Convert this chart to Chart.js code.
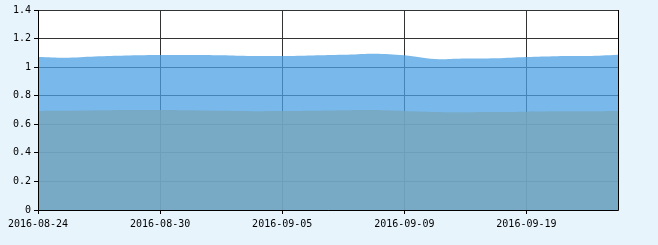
<!DOCTYPE html>
<html>
<head>
<meta charset="utf-8">
<script src="https://cdn.jsdelivr.net/npm/chart.js@4/dist/chart.umd.min.js"></script>
<style>
    html, body { margin: 0; padding: 0; background: #e8f4fc; }
    #wrap { width: 658px; height: 245px; }
</style>
</head>
<body>
<div id="wrap"><canvas id="chart" width="658" height="245"></canvas></div>
<script>
// trading days shown on the x axis
const dates = [
    '2016-08-24', '2016-08-25', '2016-08-26', '2016-08-29', '2016-08-30',
    '2016-08-31', '2016-09-01', '2016-09-02', '2016-09-05', '2016-09-06',
    '2016-09-07', '2016-09-08', '2016-09-09', '2016-09-12', '2016-09-13',
    '2016-09-14', '2016-09-19', '2016-09-20', '2016-09-21', '2016-09-22'
];
const upperValues = [
    1.071, 1.066, 1.076, 1.082, 1.085, 1.085, 1.083, 1.078, 1.078, 1.082,
    1.086, 1.094, 1.083, 1.057, 1.060, 1.062, 1.071, 1.077, 1.078, 1.087
];
const lowerValues = [
    0.693, 0.694, 0.698, 0.700, 0.700, 0.698, 0.694, 0.692, 0.693, 0.695,
    0.699, 0.700, 0.693, 0.686, 0.685, 0.686, 0.688, 0.691, 0.691, 0.693
];
const yTicks = [0, 0.2, 0.4, 0.6, 0.8, 1, 1.2, 1.4];
const labelEvery = 4;

const tickFont = { family: 'DejaVu Sans Mono', size: 10 };

const frame = {
    id: 'frame',
    beforeDraw(chart) {
        const { ctx, chartArea: a } = chart;
        ctx.save();
        ctx.fillStyle = '#e8f4fc';
        ctx.fillRect(0, 0, chart.width, chart.height);
        ctx.fillStyle = '#ffffff';
        ctx.fillRect(a.left, a.top, a.right - a.left, a.bottom - a.top);
        ctx.restore();
    },
    afterDraw(chart) {
        const { ctx, chartArea: a } = chart;
        ctx.save();
        ctx.lineWidth = 1;
        ctx.strokeStyle = '#000000';
        ctx.beginPath();
        ctx.moveTo(a.left + 0.5, a.top);
        ctx.lineTo(a.left + 0.5, a.bottom + 0.5);
        ctx.lineTo(a.right + 0.5, a.bottom + 0.5);
        ctx.lineTo(a.right + 0.5, a.top);
        ctx.stroke();
        ctx.restore();
    }
};

new Chart(document.getElementById('chart'), {
    type: 'line',
    data: {
        labels: dates,
        datasets: [
            {
                data: lowerValues,
                fill: 'origin',
                backgroundColor: 'rgba(120,166,189,0.8)',
                borderWidth: 0,
                pointRadius: 0,
                tension: 0.4
            },
            {
                data: upperValues,
                fill: 'origin',
                backgroundColor: 'rgba(75,160,227,0.75)',
                borderWidth: 0,
                pointRadius: 0,
                tension: 0.4
            }
        ]
    },
    options: {
        responsive: false,
        animation: false,
        devicePixelRatio: 1,
        layout: { padding: { top: 10, right: 40, left: 0, bottom: 0 } },
        plugins: { legend: { display: false }, tooltip: { enabled: false } },
        scales: {
            x: {
                type: 'category',
                offset: false,
                afterFit(scale) { scale.height = 35; },
                grid: {
                    color: c => (c.index % labelEvery === 0 ? '#333333' : 'rgba(0,0,0,0)'),
                    tickColor: c => (c.index % labelEvery === 0 ? '#000000' : 'rgba(0,0,0,0)'),
                    tickLength: 4,
                    lineWidth: 1
                },
                border: { display: false },
                ticks: {
                    autoSkip: false,
                    maxRotation: 0,
                    padding: 4,
                    color: '#000000',
                    font: tickFont,
                    callback(value, index) {
                        return index % labelEvery === 0 ? dates[index] : '';
                    }
                }
            },
            y: {
                min: yTicks[0],
                max: yTicks[yTicks.length - 1],
                afterFit(scale) { scale.width = 38; },
                afterBuildTicks(scale) { scale.ticks = yTicks.map(v => ({ value: v })); },
                grid: { color: '#333333', tickColor: '#000000', tickLength: 4, lineWidth: 1 },
                border: { display: false },
                ticks: {
                    padding: 3,
                    color: '#000000',
                    font: tickFont,
                    callback: v => String(Math.round(v * 10) / 10)
                }
            }
        }
    },
    plugins: [frame]
});
</script>
</body>
</html>
